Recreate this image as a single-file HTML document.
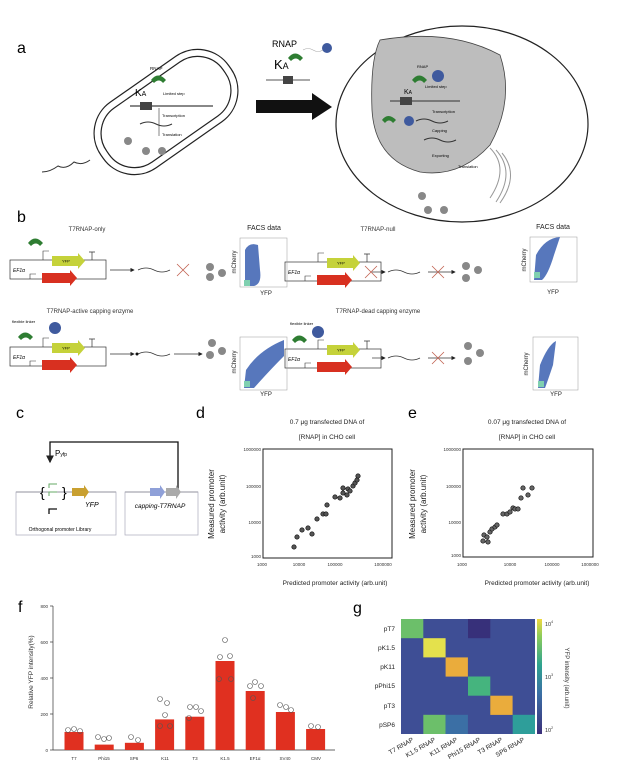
<!DOCTYPE html>
<html><head><meta charset="utf-8"><style>
html,body{margin:0;padding:0;background:#fff;}
svg{display:block;font-family:"Liberation Sans",sans-serif;}
</style></head><body>
<svg width="624" height="780" viewBox="0 0 624 780" xmlns="http://www.w3.org/2000/svg">
<rect width="624" height="780" fill="#fff"/>
<defs>
<marker id="ah" markerWidth="6" markerHeight="6" refX="5" refY="3" orient="auto"><path d="M0,0 L6,3 L0,6z" fill="#222"/></marker>
<g id="plas">
<rect x="0" y="0" width="96" height="19" fill="none" stroke="#333" stroke-width="0.7"/>
<path d="M42,-4 h26 v-3 l7,8 l-7,8 v-3 h-26z" fill="#c5d23a"/><text x="52" y="2.5" font-size="4">YFP</text>
<path d="M32,13 h28 v-3 l7,8 l-7,8 v-3 h-28z" fill="#d83020"/>
<path d="M33,0 v-9 h6" fill="none" stroke="#333" stroke-width="0.6"/>
<path d="M20,19 v-5 h6" fill="none" stroke="#333" stroke-width="0.6"/>
<text x="3" y="12" font-size="5" font-style="italic">EF1α</text>
<path d="M82,0 v-8 m-3,0 h6" stroke="#333" stroke-width="0.7"/>
</g>
</defs>
<!-- a -->
<text x="17" y="53" font-size="16">a</text>
<g transform="rotate(-35 166 112)">
<rect x="88" y="72" width="156" height="80" rx="38" fill="none" stroke="#222" stroke-width="1.2"/>
<rect x="95" y="79" width="142" height="66" rx="31" fill="none" stroke="#222" stroke-width="1.2"/>
</g>
<path d="M90,160 q-8,6 -16,2 q-8,8 -16,4 q-8,6 -16,6" fill="none" stroke="#333"/>
<path d="M151,80 q7,-9 15,0 l-3,3 q-4,-5 -9,0z" fill="#2e7d32"/>
<text x="150" y="70" font-size="4.5">RNAP</text>
<text x="135" y="96" font-size="10">K<tspan font-size="7">A</tspan></text>
<text x="163" y="95" font-size="4">Limited step</text>
<line x1="130" y1="106" x2="213" y2="106" stroke="#888" stroke-width="2"/>
<rect x="140" y="102" width="12" height="8" fill="#444"/>
<line x1="159" y1="108" x2="159" y2="136" stroke="#333" stroke-width="0.6"/>
<text x="162" y="117" font-size="4">Transcription</text>
<path d="M140,124 q8,-4 16,0 t16,0" fill="none" stroke="#333"/>
<text x="162" y="136" font-size="4">Translation</text>
<circle cx="128" cy="141" r="4" fill="#888"/><circle cx="146" cy="151" r="4" fill="#888"/><circle cx="162" cy="151" r="4" fill="#888"/>
<text x="272" y="47" font-size="9">RNAP</text>
<path d="M288,58 q7,-9 15,0 l-3,3 q-4,-5 -9,0z" fill="#2e7d32"/>
<path d="M303,50 q5,-3 10,0 t10,0" fill="none" stroke="#aaa" stroke-width="0.6"/>
<circle cx="327" cy="48" r="5" fill="#3f5a9e"/>
<text x="274" y="69" font-size="13">K<tspan font-size="9">A</tspan></text>
<line x1="266" y1="80" x2="310" y2="80" stroke="#aaa" stroke-width="2"/><rect x="283" y="76" width="10" height="8" fill="#444"/>
<path d="M256,100 L312,100 L312,93 L332,107 L312,120 L312,113 L256,113z" fill="#111"/>
<ellipse cx="462" cy="124" rx="126" ry="98" fill="none" stroke="#222" stroke-width="1.2"/>
<path d="M380,40 Q450,28 500,55 Q515,100 490,145 Q460,178 420,172 Q375,160 372,110 Q370,60 380,40z" fill="#bdbdbd" stroke="#444" stroke-width="0.8"/>
<path d="M412,80 q7,-9 15,0 l-3,3 q-4,-5 -9,0z" fill="#2e7d32"/>
<circle cx="438" cy="76" r="6" fill="#3f5a9e"/>
<text x="417" y="68" font-size="4">RNAP</text>
<text x="404" y="94" font-size="7">K<tspan font-size="5">A</tspan></text>
<text x="425" y="88" font-size="4">Limited step</text>
<line x1="390" y1="101" x2="460" y2="101" stroke="#777" stroke-width="2"/><rect x="400" y="97" width="12" height="8" fill="#444"/>
<text x="432" y="113" font-size="4">Transcription</text>
<path d="M382,120 q6,-8 14,0 l-3,3 q-4,-5 -8,0z" fill="#2e7d32"/><circle cx="409" cy="121" r="5" fill="#3f5a9e"/>
<path d="M416,121 q8,-4 16,0 t16,0" fill="none" stroke="#333"/>
<text x="432" y="132" font-size="4">Capping</text>
<path d="M424,140 q8,-4 16,0 t16,0" fill="none" stroke="#333"/>
<text x="432" y="157" font-size="4">Exporting</text>
<text x="458" y="168" font-size="4">Translation</text>
<path d="M490,148 q20,20 0,50 M496,150 q20,22 0,52 M502,153 q18,22 -2,50" fill="none" stroke="#999"/>
<circle cx="422" cy="196" r="4" fill="#888"/><circle cx="428" cy="210" r="4" fill="#888"/><circle cx="444" cy="210" r="4" fill="#888"/>
<!-- b -->
<text x="17" y="222" font-size="16">b</text>
<g font-size="6" fill="#333" text-anchor="middle">
<text x="87" y="231">T7RNAP-only</text>
<text x="378" y="231">T7RNAP-null</text>
<text x="90" y="313">T7RNAP-active capping enzyme</text>
<text x="378" y="313">T7RNAP-dead capping enzyme</text>
</g>
<use href="#plas" x="10" y="260"/>
<use href="#plas" x="285" y="262"/>
<use href="#plas" x="10" y="347"/>
<use href="#plas" x="285" y="349"/>
<path d="M28,243 q7,-9 15,0 l-3,3 q-4,-5 -9,0z" fill="#2e7d32"/>
<path d="M18,337 q7,-9 15,0 l-3,3 q-4,-5 -9,0z" fill="#2e7d32"/><circle cx="55" cy="328" r="6" fill="#3f5a9e"/>
<path d="M292,340 q7,-9 15,0 l-3,3 q-4,-5 -9,0z" fill="#2e7d32"/><circle cx="318" cy="332" r="6" fill="#3f5a9e"/>
<text x="12" y="323" font-size="4">flexible linker</text><text x="290" y="325" font-size="4">flexible linker</text>
<g stroke="#333" stroke-width="0.7" fill="none">
<line x1="110" y1="270" x2="134" y2="270" marker-end="url(#ah)"/>
<path d="M138,270 q8,-4 16,0 t16,0"/>
<line x1="372" y1="272" x2="385" y2="272" marker-end="url(#ah)"/>
<path d="M388,272 q8,-4 16,0 t16,0"/>
<line x1="428" y1="272" x2="455" y2="272" marker-end="url(#ah)"/>
<line x1="110" y1="354" x2="134" y2="354" marker-end="url(#ah)"/>
<path d="M138,354 q8,-4 16,0 t16,0"/>
<line x1="174" y1="354" x2="202" y2="354" marker-end="url(#ah)"/>
<line x1="372" y1="358" x2="385" y2="358" marker-end="url(#ah)"/>
<path d="M388,358 q8,-4 16,0 t16,0"/>
<line x1="428" y1="358" x2="455" y2="358" marker-end="url(#ah)"/>
</g>
<circle cx="137" cy="354" r="1.5" fill="#111"/>
<g stroke="#c06050" stroke-width="0.8">
<path d="M177,264 l12,12 M189,264 l-12,12"/><path d="M365,266 l12,12 M377,266 l-12,12"/><path d="M432,266 l12,12 M444,266 l-12,12"/><path d="M432,352 l12,12 M444,352 l-12,12"/>
</g>
<g fill="#888">
<circle cx="210" cy="267" r="4"/><circle cx="210" cy="277" r="4"/><circle cx="222" cy="273" r="4"/>
<circle cx="466" cy="266" r="4"/><circle cx="466" cy="278" r="4"/><circle cx="478" cy="270" r="4"/>
<circle cx="212" cy="343" r="4"/><circle cx="210" cy="355" r="4"/><circle cx="222" cy="351" r="4"/>
<circle cx="468" cy="346" r="4"/><circle cx="468" cy="361" r="4"/><circle cx="480" cy="353" r="4"/>
</g>
<!-- FACS -->
<g font-size="7" fill="#222">
<text x="264" y="230" text-anchor="middle">FACS data</text><text x="553" y="229" text-anchor="middle">FACS data</text>
<text x="266" y="295" text-anchor="middle" font-size="6">YFP</text><text x="553" y="294" text-anchor="middle" font-size="6">YFP</text>
<text x="266" y="396" text-anchor="middle" font-size="6">YFP</text><text x="556" y="396" text-anchor="middle" font-size="6">YFP</text>
<text transform="translate(236,262) rotate(-90)" text-anchor="middle" font-size="6">mCherry</text>
<text transform="translate(526,260) rotate(-90)" text-anchor="middle" font-size="6">mCherry</text>
<text transform="translate(236,362) rotate(-90)" text-anchor="middle" font-size="6">mCherry</text>
<text transform="translate(528,364) rotate(-90)" text-anchor="middle" font-size="6">mCherry</text>
</g>
<g stroke="#999" stroke-width="0.5" fill="none">
<rect x="240" y="238" width="47" height="49"/><rect x="530" y="237" width="47" height="45"/>
<rect x="240" y="337" width="47" height="53"/><rect x="533" y="337" width="45" height="53"/>
</g>
<path d="M245,286 L245,250 Q249,242 258,245 L260,270 Q262,284 254,286z" fill="#3a5fb0" opacity="0.85"/>
<path d="M534,280 L536,255 Q545,238 560,237 L554,255 Q548,275 542,280z" fill="#3a5fb0" opacity="0.85"/>
<path d="M244,388 L246,370 Q259,350 284,340 L284,356 Q270,370 254,388z" fill="#3a5fb0" opacity="0.85"/>
<path d="M538,388 L540,365 Q548,345 556,341 L553,365 Q548,380 545,388z" fill="#3a5fb0" opacity="0.85"/>
<g fill="#7fd0b0"><rect x="244" y="280" width="6" height="6"/><rect x="534" y="272" width="6" height="6"/><rect x="244" y="381" width="6" height="6"/><rect x="538" y="381" width="6" height="6"/></g>
<!-- c -->
<text x="16" y="418" font-size="16">c</text>
<g stroke="#111" stroke-width="1.3" fill="none">
<path d="M178,490 V442 H50 V462" marker-end="url(#ah)"/>
</g>
<text x="55" y="456" font-size="8">P<tspan font-size="5">yfp</tspan></text>
<line x1="16" y1="492" x2="116" y2="492" stroke="#222" stroke-width="0.8"/>
<line x1="125" y1="492" x2="198" y2="492" stroke="#222" stroke-width="0.8"/>
<rect x="16" y="492" width="100" height="43" fill="none" stroke="#aab" stroke-width="0.7"/>
<rect x="125" y="492" width="73" height="43" fill="none" stroke="#aab" stroke-width="0.7"/>
<path d="M72,488 h12 v-3 l5,7 l-5,7 v-3 h-12z" fill="#c9a030"/>
<path d="M150,488 h10 v-3 l5,7 l-5,7 v-3 h-10z" fill="#8fa0d8"/><path d="M166,488 h10 v-3 l5,7 l-5,7 v-3 h-10z" fill="#aaa"/>
<text x="40" y="497" font-size="14">{</text><text x="62" y="497" font-size="14">}</text>
<path d="M49,488 v-4 h8 M49,496 v-4 h8" stroke="#6a6" fill="none"/>
<path d="M49,514 v-5 h8" stroke="#111" stroke-width="1.3" fill="none"/>
<text x="85" y="507" font-size="7" font-style="italic">YFP</text>
<text x="160" y="508" font-size="6.5" font-style="italic" text-anchor="middle">capping-T7RNAP</text>
<text x="60" y="531" font-size="5" text-anchor="middle">Orthogonal promoter Library</text>
<!-- d e -->
<text x="196" y="418" font-size="16">d</text><text x="408" y="418" font-size="16">e</text>
<g font-size="6.5" text-anchor="middle" fill="#222">
<text x="327" y="424">0.7 μg transfected DNA of</text><text x="327" y="439">[RNAP] in CHO cell</text>
<text x="527" y="424">0.07 μg transfected DNA of</text><text x="527" y="439">[RNAP] in CHO cell</text>
<text x="335" y="585">Predicted promoter activity (arb.unit)</text>
<text x="537" y="585">Predicted promoter activity (arb.unit)</text>
<text transform="translate(214,504) rotate(-90)" font-size="8">Measured promoter</text>
<text transform="translate(225,504) rotate(-90)" font-size="8">activity (arb.unit)</text>
<text transform="translate(415,504) rotate(-90)" font-size="8">Measured promoter</text>
<text transform="translate(426,504) rotate(-90)" font-size="8">activity (arb.unit)</text>
</g>
<rect x="263" y="449" width="129" height="109" fill="none" stroke="#222" stroke-width="1"/>
<rect x="463" y="449" width="130" height="108" fill="none" stroke="#222" stroke-width="1"/>
<g font-size="4.5" fill="#333">
<g text-anchor="end"><text x="261" y="451">1000000</text><text x="261" y="488">100000</text><text x="261" y="524">10000</text><text x="261" y="558">1000</text>
<text x="461" y="451">1000000</text><text x="461" y="488">100000</text><text x="461" y="524">10000</text><text x="461" y="557">1000</text></g>
<g text-anchor="middle"><text x="262" y="566">1000</text><text x="299" y="566">10000</text><text x="335" y="566">100000</text><text x="383" y="566">1000000</text>
<text x="462" y="566">1000</text><text x="510" y="566">10000</text><text x="552" y="566">100000</text><text x="590" y="566">1000000</text></g>
</g>
<g fill="#555" stroke="#111" stroke-width="0.7">
<circle cx="294" cy="547" r="2.2"/><circle cx="297" cy="537" r="2.2"/><circle cx="302" cy="530" r="2.2"/><circle cx="308" cy="528" r="2.2"/><circle cx="312" cy="534" r="2.2"/><circle cx="317" cy="519" r="2.2"/><circle cx="323" cy="514" r="2.2"/><circle cx="326" cy="514" r="2.2"/><circle cx="327" cy="505" r="2.2"/><circle cx="335" cy="497" r="2.2"/><circle cx="340" cy="498" r="2.2"/><circle cx="343" cy="493" r="2.2"/><circle cx="343" cy="488" r="2.2"/><circle cx="347" cy="495" r="2.2"/><circle cx="348" cy="489" r="2.2"/><circle cx="350" cy="491" r="2.2"/><circle cx="353" cy="486" r="2.2"/><circle cx="355" cy="483" r="2.2"/><circle cx="357" cy="480" r="2.2"/><circle cx="358" cy="476" r="2.2"/>
</g>
<g fill="#666" stroke="#111" stroke-width="0.7">
<circle cx="483" cy="541" r="2.2"/><circle cx="484" cy="535" r="2.2"/><circle cx="487" cy="537" r="2.2"/><circle cx="488" cy="542" r="2.2"/><circle cx="490" cy="532" r="2.2"/><circle cx="492" cy="529" r="2.2"/><circle cx="495" cy="527" r="2.2"/><circle cx="497" cy="525" r="2.2"/><circle cx="503" cy="514" r="2.2"/><circle cx="507" cy="514" r="2.2"/><circle cx="510" cy="512" r="2.2"/><circle cx="513" cy="508" r="2.2"/><circle cx="515" cy="509" r="2.2"/><circle cx="518" cy="509" r="2.2"/><circle cx="521" cy="498" r="2.2"/><circle cx="523" cy="488" r="2.2"/><circle cx="528" cy="495" r="2.2"/><circle cx="532" cy="488" r="2.2"/>
</g>
<!-- f -->
<text x="18" y="612" font-size="16">f</text>
<line x1="53" y1="606" x2="53" y2="750" stroke="#333" stroke-width="0.7"/>
<line x1="53" y1="750" x2="335" y2="750" stroke="#333" stroke-width="0.7"/>
<g stroke="#333" stroke-width="0.7"><line x1="50" y1="606" x2="53" y2="606"/><line x1="50" y1="642" x2="53" y2="642"/><line x1="50" y1="678" x2="53" y2="678"/><line x1="50" y1="714" x2="53" y2="714"/><line x1="50" y1="750" x2="53" y2="750"/></g>
<g font-size="4.5" text-anchor="end" fill="#333"><text x="48" y="608">800</text><text x="48" y="644">600</text><text x="48" y="680">400</text><text x="48" y="716">200</text><text x="48" y="752">0</text></g>
<text transform="translate(33,672) rotate(-90)" font-size="6.5" text-anchor="middle" fill="#333">Relative YFP intensity(%)</text>
<g fill="#e03020">
<rect x="64.5" y="732" width="19" height="18"/><rect x="94.7" y="744.6" width="19" height="5.4"/><rect x="124.9" y="742.8" width="19" height="7.2"/><rect x="155.1" y="719.4" width="19" height="30.6"/><rect x="185.3" y="716.7" width="19" height="33.3"/><rect x="215.5" y="661" width="19" height="89"/><rect x="245.7" y="691" width="19" height="59"/><rect x="275.9" y="712" width="19" height="38"/><rect x="306.1" y="729" width="19" height="21"/>
</g>
<g fill="none" stroke="#555" stroke-width="0.6">
<circle cx="68" cy="730" r="2.5"/><circle cx="74" cy="729" r="2.5"/><circle cx="80" cy="731" r="2.5"/><circle cx="98" cy="737" r="2.5"/><circle cx="104" cy="739" r="2.5"/><circle cx="109" cy="738" r="2.5"/><circle cx="131" cy="737" r="2.5"/><circle cx="138" cy="740" r="2.5"/>
<circle cx="160" cy="699" r="2.5"/><circle cx="167" cy="703" r="2.5"/><circle cx="165" cy="715" r="2.5"/><circle cx="160" cy="726" r="2.5"/><circle cx="170" cy="726" r="2.5"/>
<circle cx="190" cy="707" r="2.5"/><circle cx="196" cy="707" r="2.5"/><circle cx="201" cy="711" r="2.5"/><circle cx="189" cy="718" r="2.5"/>
<circle cx="220" cy="657" r="2.5"/><circle cx="225" cy="640" r="2.5"/><circle cx="230" cy="656" r="2.5"/><circle cx="219" cy="679" r="2.5"/><circle cx="231" cy="679" r="2.5"/>
<circle cx="250" cy="686" r="2.5"/><circle cx="255" cy="682" r="2.5"/><circle cx="261" cy="686" r="2.5"/><circle cx="253" cy="698" r="2.5"/>
<circle cx="280" cy="705" r="2.5"/><circle cx="286" cy="707" r="2.5"/><circle cx="291" cy="710" r="2.5"/>
<circle cx="311" cy="726" r="2.5"/><circle cx="318" cy="727" r="2.5"/>
</g>
<g font-size="4.5" text-anchor="middle" fill="#333">
<text x="74" y="760">T7</text><text x="104" y="760">Phi15</text><text x="134" y="760">SP6</text><text x="165" y="760">K11</text><text x="195" y="760">T3</text><text x="225" y="760">K1.5</text><text x="255" y="760">EF1α</text><text x="285" y="760">SV40</text><text x="316" y="760">CMV</text>
</g>
<!-- g -->
<text x="353" y="613" font-size="16">g</text>
<g>
<rect x="401" y="619" width="134" height="115" fill="#3e4e95"/>
<rect x="401" y="619" width="22.3" height="19.2" fill="#6cbf6a"/>
<rect x="468" y="619" width="22.3" height="19.2" fill="#37307a"/>
<rect x="423.3" y="638.2" width="22.3" height="19.2" fill="#e4e14c"/>
<rect x="445.6" y="657.4" width="22.3" height="19.2" fill="#eaac3c"/>
<rect x="468" y="676.5" width="22.3" height="19.2" fill="#45b47e"/>
<rect x="490.3" y="695.7" width="22.3" height="19.2" fill="#eaac3c"/>
<rect x="423.3" y="714.8" width="22.3" height="19.2" fill="#6cbf6a"/>
<rect x="445.6" y="714.8" width="22.3" height="19.2" fill="#3b6fa5"/>
<rect x="512.7" y="714.8" width="22.3" height="19.2" fill="#2e9e9a"/>
</g>
<defs><linearGradient id="cb" x1="0" y1="1" x2="0" y2="0"><stop offset="0" stop-color="#3b2f7a"/><stop offset="0.35" stop-color="#3b6fa5"/><stop offset="0.6" stop-color="#2ea38f"/><stop offset="0.85" stop-color="#8ccc5a"/><stop offset="1" stop-color="#f0d840"/></linearGradient></defs>
<rect x="537" y="619" width="5" height="115" fill="url(#cb)"/>
<g font-size="5.5" fill="#333"><text x="545" y="626">10<tspan font-size="3.5" dy="-3">4</tspan></text><text x="545" y="679">10<tspan font-size="3.5" dy="-3">3</tspan></text><text x="545" y="732">10<tspan font-size="3.5" dy="-3">2</tspan></text></g>
<text transform="translate(565,678) rotate(90)" font-size="6" text-anchor="middle" fill="#333">YFP intensity (arb.unit)</text>
<g font-size="6.5" text-anchor="end" fill="#222">
<text x="395" y="631">pT7</text><text x="395" y="650">pK1.5</text><text x="395" y="669">pK11</text><text x="395" y="688">pPhi15</text><text x="395" y="708">pT3</text><text x="395" y="727">pSP6</text>
</g>
<g font-size="6.5" text-anchor="end" fill="#222">
<text transform="translate(414,741) rotate(-30)">T7 RNAP</text><text transform="translate(436,741) rotate(-30)">K1.5 RNAP</text><text transform="translate(458,741) rotate(-30)">K11 RNAP</text><text transform="translate(481,741) rotate(-30)">Phi15 RNAP</text><text transform="translate(503,741) rotate(-30)">T3 RNAP</text><text transform="translate(525,741) rotate(-30)">SP6 RNAP</text>
</g>
</svg>
</body></html>
